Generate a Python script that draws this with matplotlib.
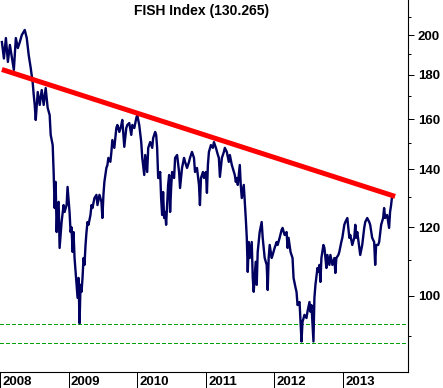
import numpy as np
import matplotlib
matplotlib.use("Agg")
import matplotlib.pyplot as plt
from matplotlib.ticker import FixedLocator, FuncFormatter, NullFormatter
import matplotlib.transforms as mtransforms

plt.rcParams['font.family'] = ['Liberation Sans', 'DejaVu Sans']

# FISH index (decimal year, index level)
dates = [
    2008.028, 2008.057, 2008.086, 2008.115, 2008.144, 2008.202, 2008.231, 2008.260,
    2008.289, 2008.318, 2008.361, 2008.390, 2008.419, 2008.448, 2008.477, 2008.492,
    2008.506, 2008.521, 2008.550, 2008.579, 2008.608, 2008.637, 2008.666, 2008.695,
    2008.724, 2008.739, 2008.768, 2008.782, 2008.797, 2008.811, 2008.826, 2008.840,
    2008.855, 2008.869, 2008.898, 2008.927, 2008.942, 2008.971, 2008.985, 2009.014,
    2009.029, 2009.043, 2009.058, 2009.072, 2009.087, 2009.116, 2009.131, 2009.145,
    2009.160, 2009.174, 2009.189, 2009.203, 2009.218, 2009.232, 2009.247, 2009.261,
    2009.276, 2009.290, 2009.319, 2009.334, 2009.348, 2009.377, 2009.406, 2009.421,
    2009.450, 2009.479, 2009.493, 2009.508, 2009.522, 2009.551, 2009.566, 2009.580,
    2009.609, 2009.624, 2009.638, 2009.667, 2009.696, 2009.711, 2009.740, 2009.769,
    2009.783, 2009.812, 2009.841, 2009.856, 2009.885, 2009.914, 2009.929, 2009.958,
    2009.987, 2010.001, 2010.030, 2010.059, 2010.074, 2010.103, 2010.117, 2010.146,
    2010.161, 2010.190, 2010.219, 2010.233, 2010.262, 2010.277, 2010.291, 2010.306,
    2010.320, 2010.335, 2010.349, 2010.364, 2010.378, 2010.393, 2010.407, 2010.422,
    2010.451, 2010.466, 2010.480, 2010.495, 2010.509, 2010.538, 2010.553, 2010.582,
    2010.611, 2010.625, 2010.654, 2010.683, 2010.698, 2010.727, 2010.756, 2010.770,
    2010.799, 2010.828, 2010.843, 2010.872, 2010.901, 2010.915, 2010.930, 2010.959,
    2010.973, 2011.002, 2011.017, 2011.031, 2011.046, 2011.075, 2011.104, 2011.119,
    2011.148, 2011.177, 2011.191, 2011.206, 2011.235, 2011.264, 2011.278, 2011.307,
    2011.336, 2011.351, 2011.380, 2011.409, 2011.423, 2011.438, 2011.452, 2011.467,
    2011.496, 2011.510, 2011.525, 2011.554, 2011.569, 2011.583, 2011.598, 2011.612,
    2011.627, 2011.641, 2011.670, 2011.685, 2011.699, 2011.728, 2011.743, 2011.757,
    2011.786, 2011.815, 2011.830, 2011.844, 2011.859, 2011.888, 2011.903, 2011.917,
    2011.932, 2011.961, 2011.975, 2012.004, 2012.033, 2012.048, 2012.077, 2012.106,
    2012.120, 2012.149, 2012.178, 2012.193, 2012.207, 2012.236, 2012.265, 2012.280,
    2012.309, 2012.323, 2012.338, 2012.367, 2012.381, 2012.396, 2012.410, 2012.439,
    2012.468, 2012.483, 2012.512, 2012.526, 2012.541, 2012.570, 2012.584, 2012.599,
    2012.628, 2012.642, 2012.657, 2012.672, 2012.686, 2012.715, 2012.730, 2012.759,
    2012.773, 2012.802, 2012.817, 2012.846, 2012.875, 2012.889, 2012.904, 2012.933,
    2012.947, 2012.976, 2012.991, 2013.020, 2013.035, 2013.064, 2013.093, 2013.107,
    2013.136, 2013.165, 2013.180, 2013.194, 2013.209, 2013.238, 2013.252, 2013.281,
    2013.310, 2013.325, 2013.354, 2013.383, 2013.397, 2013.426, 2013.455, 2013.470,
    2013.484, 2013.513, 2013.528, 2013.557, 2013.586, 2013.600, 2013.615, 2013.644,
    2013.673, 2013.687, 2013.702, 2013.716,
]
values = [
    196.3, 187.9, 198.4, 186.2, 194.8, 182.3, 198.4, 193.2,
    196.3, 200.0, 202.7, 198.4, 189.5, 183.2, 176.1, 170.5,
    166.1, 159.6, 171.9, 166.1, 172.8, 166.1, 173.7, 164.8,
    161.7, 153.4, 149.3, 139.0, 126.3, 135.4, 118.5, 127.3,
    128.4, 113.6, 121.7, 127.3, 125.0, 127.3, 133.6, 125.0,
    118.5, 120.0, 112.4, 118.5, 110.6, 103.0, 99.5, 104.9,
    93.0, 103.0, 101.1, 104.9, 110.6, 108.6, 114.5, 118.5,
    121.7, 120.8, 124.0, 127.3, 126.3, 129.7, 130.8, 127.3,
    130.8, 128.4, 123.0, 130.8, 135.4, 140.5, 141.6, 144.3,
    142.8, 146.6, 151.3, 148.2, 156.2, 157.5, 154.6, 157.5,
    159.6, 148.6, 156.2, 157.5, 158.3, 153.4, 157.5, 156.2,
    160.4, 161.7, 157.5, 150.5, 144.3, 137.9, 145.4, 139.0,
    148.2, 150.5, 148.2, 152.1, 154.6, 153.4, 148.2, 136.8,
    136.8, 139.0, 129.7, 124.0, 131.8, 123.0, 125.0, 120.8,
    134.3, 137.9, 125.0, 133.2, 139.0, 136.8, 144.3, 145.4,
    139.0, 133.2, 140.5, 144.3, 142.8, 140.5, 142.8, 144.3,
    146.6, 144.3, 139.0, 140.5, 134.3, 127.3, 136.8, 139.0,
    136.8, 139.0, 131.5, 141.6, 146.6, 149.3, 148.2, 150.5,
    148.2, 145.4, 144.3, 137.2, 144.3, 146.6, 148.2, 146.6,
    142.8, 145.4, 141.6, 139.0, 137.9, 135.4, 136.8, 134.3,
    141.6, 134.3, 129.7, 134.3, 128.4, 123.0, 116.7, 106.6,
    115.4, 110.6, 115.4, 104.9, 101.1, 109.5, 103.0, 112.4,
    118.5, 121.7, 116.7, 113.6, 110.6, 108.6, 101.6, 110.6,
    114.5, 110.6, 111.5, 113.6, 115.4, 114.5, 116.7, 119.2,
    119.8, 117.6, 118.5, 113.6, 116.7, 112.4, 110.6, 104.9,
    102.2, 101.1, 97.6, 98.4, 93.3, 88.6, 93.3, 95.1,
    94.3, 95.9, 98.4, 95.9, 97.6, 88.6, 99.5, 103.0,
    107.7, 106.6, 108.6, 103.8, 110.6, 114.5, 113.6, 107.7,
    111.5, 108.6, 111.5, 108.6, 110.6, 106.3, 110.6, 111.5,
    112.4, 115.4, 116.7, 120.8, 121.7, 123.0, 116.7, 117.6,
    114.5, 116.7, 120.8, 116.7, 118.5, 113.6, 111.5, 114.5,
    119.8, 121.7, 123.0, 121.7, 120.8, 116.7, 115.4, 108.6,
    114.5, 114.5, 115.4, 120.8, 123.0, 126.3, 123.0, 124.0,
    119.8, 125.0, 127.3, 130.265,
]

last_value = 130.265
trend_dates = [2008.028, 2013.760]
trend_values = [182.5, 130.265]
support_levels = [92.8, 88.3]
years = [2008, 2009, 2010, 2011, 2012, 2013]
y_major = [100, 120, 140, 160, 180, 200]
y_minor = [90, 110, 130, 150, 170, 190, 210]

fig = plt.figure(figsize=(4.43, 3.88), dpi=100)
ax = fig.add_axes([0.0, 0.0412, 0.92, 0.9588])

for lvl in support_levels:
    ax.axhline(lvl, color='#00a000', lw=0.8, ls=(0, (3.0, 2.5)),
               antialiased=False, zorder=1)

ax.plot(dates, values, color='#000060', lw=1.7, zorder=2)
ax.plot(trend_dates, trend_values, color='#ff0000', lw=3.6,
        solid_capstyle='butt', zorder=3)

ax.set_yscale('log')
ax.set_ylim(81.7, 219.5)
ax.set_xlim(2008.0276, 2013.942)

ax.yaxis.set_major_locator(FixedLocator(y_major))
ax.yaxis.set_minor_locator(FixedLocator(y_minor))
ax.yaxis.set_major_formatter(FuncFormatter(lambda v, p: f"{v:.0f}"))
ax.yaxis.set_minor_formatter(NullFormatter())
ax.yaxis.tick_right()
ax.tick_params(axis='y', which='major', direction='out', length=4.3, width=0.72,
               pad=3.2, labelsize=9.5)
ax.tick_params(axis='y', which='minor', direction='out', length=2.2, width=0.72)
for lab in ax.get_yticklabels():
    lab.set_fontweight('bold')

ax.set_xticks(years)
ax.set_xticklabels([])
ax.tick_params(axis='x', which='major', direction='out', length=11.5, width=0.72)

trans = mtransforms.blended_transform_factory(ax.transData, ax.transAxes)
for yr in years:
    ax.text(yr + 0.035, -0.012, str(yr), transform=trans, ha='left', va='top',
            fontsize=9.5, fontweight='bold', clip_on=False)

ax.spines['left'].set_visible(False)
ax.spines['top'].set_visible(False)
ax.spines['right'].set_linewidth(0.8)
ax.spines['bottom'].set_linewidth(0.8)

ax.text(0.495, 0.988, f"FISH Index ({last_value})", transform=ax.transAxes,
        ha='center', va='top', fontsize=10, fontweight='bold')

fig.savefig("out.png", dpi=100)
